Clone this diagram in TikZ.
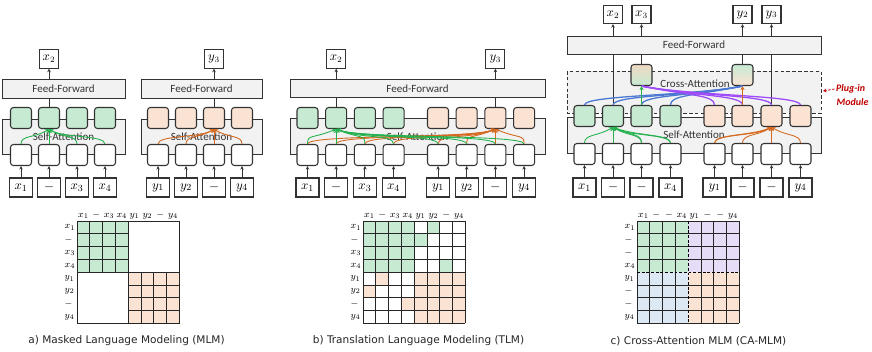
\documentclass[tikz,border=0pt]{standalone}
\usepackage{fontspec}
\setmainfont{Carlito}
\newfontfamily\capfont{DejaVu Sans}
\usetikzlibrary{arrows.meta}

\definecolor{tokg}{HTML}{C7EAD2}
\definecolor{toko}{HTML}{FBE3D4}
\definecolor{tokp}{HTML}{E7DCF8}
\definecolor{tokb}{HTML}{DCE9F5}
\definecolor{tokw}{HTML}{FFFFFF}
\definecolor{tokt}{HTML}{EFD9C4}
\definecolor{layerfill}{HTML}{F2F2F2}
\definecolor{edge}{HTML}{333333}
\definecolor{garc}{HTML}{25B24E}
\definecolor{oarc}{HTML}{D4691F}
\definecolor{barc}{HTML}{4A78D2}
\definecolor{parc}{HTML}{9D4CF7}
\definecolor{plugred}{HTML}{C00000}

\tikzset{
  layer/.style={draw=edge, fill=layerfill, line width=0.8pt, inner sep=0pt, text=black!80, font=\fontsize{9.4}{10}\selectfont},
  tok/.style={draw=edge, rounded corners=2.5pt, line width=0.9pt, minimum width=0.63cm, minimum height=0.63cm, inner sep=0pt},
  inbox/.style={draw=edge, fill=white, line width=0.9pt, minimum width=0.69cm, minimum height=0.57cm, inner sep=0pt, font=\fontsize{11}{11}\selectfont},
  outbox/.style={draw=edge, fill=white, line width=0.9pt, minimum width=0.57cm, minimum height=0.55cm, inner sep=0pt, font=\fontsize{10.5}{10.5}\selectfont},
  feed/.style={edge, line width=0.7pt, -{Stealth[length=3pt,width=3pt]}},
  link/.style={edge, line width=0.7pt},
  garrow/.style={garc, line width=0.75pt, -{Stealth[length=3.5pt,width=3.5pt]}},
  oarrow/.style={oarc, line width=0.75pt, -{Stealth[length=3.5pt,width=3.5pt]}},
  bline/.style={barc, line width=1.1pt},
  pline/.style={parc, line width=1.1pt},
  plugbox/.style={draw=black!80, fill=layerfill, line width=0.7pt, dash pattern=on 3pt off 2pt},
  plug/.style={text=plugred, font=\bfseries\itshape\fontsize{8.5}{9}\selectfont, inner sep=1pt},
  plugarrow/.style={plugred, line width=0.7pt, dash pattern=on 2pt off 1.5pt, -{Stealth[length=3pt,width=3pt]}},
  gridline/.style={black!85, line width=0.85pt},
  midline/.style={black, line width=1.2pt, dash pattern=on 2.5pt off 1.5pt},
  lab/.style={inner sep=0pt, font=\fontsize{8.5}{8.5}\selectfont},
  captext/.style={inner sep=0pt, text=black!85, font={\capfont\fontsize{9}{10}\selectfont}},
}

\begin{document}
\begin{tikzpicture}[x=0.03cm, y=-0.03cm]
\useasboundingbox (0,0) rectangle (872,351);

% ---------- a) MLM ----------
% Layers
\node[layer, minimum width=3.69cm, minimum height=0.57cm] (affl) at (63.5,88.5) {Feed-Forward};
\node[layer, minimum width=3.63cm, minimum height=0.57cm] (affr) at (201.5,88.5) {Feed-Forward};
\node[layer, minimum width=3.69cm, minimum height=1.05cm] (asal) at (63.5,136.5) {Self-Attention};
\node[layer, minimum width=3.63cm, minimum height=1.05cm] (asar) at (201.5,136.5) {Self-Attention};

% Tokens
\foreach \i/\x/\lab/\col in {1/21/x_1/g,2/49/-/g,3/77/x_3/g,4/105/x_4/g,5/158/y_1/o,6/186/y_2/o,7/214/-/o,8/242/y_4/o} {
  \node[inbox] (ain\i) at (\x,187.5) {$\lab$};
  \node[tok, fill=white] (aw\i) at (\x,155) {};
  \node[tok, fill=tok\col] (at\i) at (\x,118) {};
  \draw[feed] (ain\i) -- (aw\i);
}

% Outputs
\node[outbox] (aoutl) at (49,59) {$x_2$};
\node[outbox] (aoutr) at (214,59) {$y_3$};
\draw[link] (at2) -- (at2 |- affl.south);
\draw[feed] (aoutl |- affl.north) -- (aoutl);
\draw[link] (at7) -- (at7 |- affr.south);
\draw[feed] (aoutr |- affr.north) -- (aoutr);

% Attention
\draw[garrow] (aw2) -- (at2);
\foreach \i/\dir in {1/-1,3/1,4/1}
  \draw[garrow] (aw\i.north) .. controls +(0,-9) and +(\dir*14,9) .. (at2.south);
\draw[oarrow] (aw7) -- (at7);
\foreach \i/\dir in {5/-1,6/-1,8/1}
  \draw[oarrow] (aw\i.north) .. controls +(0,-9) and +(\dir*14,9) .. (at7.south);

% ---------- b) TLM ----------
\node[layer, minimum width=7.65cm, minimum height=0.55cm] (bff) at (417.5,88.5) {Feed-Forward};
\node[layer, minimum width=7.65cm, minimum height=1.08cm] (bsa) at (417.5,136.5) {Self-Attention};

\foreach \i/\x/\lab/\col in {1/307.5/x_1/g,2/336.2/-/g,3/364.9/x_3/g,4/393.6/x_4/g,5/438/y_1/o,6/466.7/y_2/o,7/495.4/-/o,8/524.1/y_4/o} {
  \node[inbox] (bin\i) at (\x,187.5) {$\lab$};
  \node[tok, fill=white] (bw\i) at (\x,155) {};
  \node[tok, fill=tok\col] (bt\i) at (\x,118) {};
  \draw[feed] (bin\i) -- (bw\i);
}

\node[outbox] (boutx) at (336.2,59) {$x_2$};
\node[outbox] (bouty) at (495.4,59) {$y_3$};
\draw[link] (bt2) -- (bt2 |- bff.south);
\draw[feed] (boutx |- bff.north) -- (boutx);
\draw[link] (bt7) -- (bt7 |- bff.south);
\draw[feed] (bouty |- bff.north) -- (bouty);

\draw[oarrow] (bw7) -- (bt7);
\foreach \i/\dir in {1/-1,2/-1,3/-1,4/-1,5/-1,6/-1,8/1}
  \draw[oarrow] (bw\i.north) .. controls +(0,-10) and +(\dir*24,10) .. (bt7.south);
\draw[garrow] (bw2) -- (bt2);
\foreach \i/\dir in {1/-1,3/1,4/1,5/1,6/1,7/1,8/1}
  \draw[garrow] (bw\i.north) .. controls +(0,-10) and +(\dir*24,10) .. (bt2.south);

% ---------- c) CA-MLM ----------
\node[layer, minimum width=7.62cm, minimum height=0.54cm] (cff) at (694,45) {Feed-Forward};
\draw[plugbox] (567,71) rectangle (821,113);
\node[inner sep=0pt, text=black!80, font=\fontsize{9.4}{10}\selectfont] (cxtext) at (695,84) {Cross-Attention};
\node[layer, minimum width=7.62cm, minimum height=1.08cm] (csa) at (694,135) {Self-Attention};

\foreach \i/\x/\lab/\col in {1/584.5/x_1/g,2/613/-/g,3/641.5/-/g,4/670.5/x_4/g,5/714.5/y_1/o,6/742.5/-/o,7/771.5/-/o,8/800.5/y_4/o} {
  \node[inbox] (cin\i) at (\x,187.5) {$\lab$};
  \node[tok, fill=white] (cw\i) at (\x,154) {};
  \node[tok, fill=tok\col] (ct\i) at (\x,116) {};
  \draw[feed] (cin\i) -- (cw\i);
}

% Cross-attention tokens
\node[tok, top color=tokt, bottom color=tokg] (cxa) at (641.5,75) {};
\node[tok, top color=tokg, bottom color=toko] (cxb) at (742.5,75) {};

% Outputs
\node[outbox] (cout1) at (613,14.5) {$x_2$};
\node[outbox] (cout2) at (641.5,14.5) {$x_3$};
\node[outbox] (cout3) at (742.5,14.5) {$y_2$};
\node[outbox] (cout4) at (771.5,14.5) {$y_3$};
\draw[link] (ct2) -- (ct2 |- cff.south);
\draw[link] (cxa) -- (cxa |- cff.south);
\draw[link] (cxb) -- (cxb |- cff.south);
\draw[link] (ct7) -- (ct7 |- cff.south);
\foreach \k in {1,...,4}
  \draw[feed] (cout\k |- cff.north) -- (cout\k);

% Self-attention
\draw[garrow] (cw2) -- (ct2);
\foreach \i/\dir/\o in {1/-1/14,3/1/14,3/1/20,4/1/14,4/1/22}
  \draw[garrow] (cw\i.north) .. controls +(0,-9) and +(\dir*\o,9) .. (ct2.south);
\draw[oarrow] (cw7) -- (ct7);
\foreach \i/\dir/\o in {5/-1/14,5/-1/20,6/-1/14,8/1/14}
  \draw[oarrow] (cw\i.north) .. controls +(0,-9) and +(\dir*\o,9) .. (ct7.south);

% Cross-attention
\foreach \i in {1,...,4}
  \draw[bline] (ct\i.north) .. controls +(0,-10) and +(-50,10) .. (cxb.south);
\foreach \i in {5,...,8}
  \draw[pline] (ct\i.north) .. controls +(0,-10) and +(50,10) .. (cxa.south);
\draw[garrow] (ct3) -- (cxa);
\draw[oarrow] (ct6) -- (cxb);

% Plug-in label
\node[plug] (plugup) at (850.5,89) {Plug-in};
\node[plug] (plugdn) at (852.5,102) {Module};
\coordinate (plugtip) at (823,91);
\draw[plugarrow] (plugup.west) -- (plugtip);

% ---------- Masks ----------
% a)
\begin{scope}[shift={(77,221)}]
  \fill[tokg] (0,0) rectangle (51.2,51.2);
  \fill[toko] (51.2,51.2) rectangle (102.4,102.4);
  \foreach \k in {0,...,4} {
    \draw[gridline] (\k*12.8,0) -- (\k*12.8,51.2);
    \draw[gridline] (0,\k*12.8) -- (51.2,\k*12.8);
    \draw[gridline] (51.2+\k*12.8,51.2) -- (51.2+\k*12.8,102.4);
    \draw[gridline] (51.2,51.2+\k*12.8) -- (102.4,51.2+\k*12.8);
  }
  \draw[gridline] (0,0) rectangle (102.4,102.4);
  \foreach \lab [count=\k from 0] in {x_1,-,x_3,x_4,y_1,y_2,-,y_4} {
    \node[lab, anchor=base] (acol\k) at (6.4+\k*12.8,-3.5) {$\lab$};
    \node[lab, anchor=west] (arow\k) at (-12.5,6.4+\k*12.8) {$\lab$};
  }
\end{scope}

% b)
\begin{scope}[shift={(363,221)}]
  \foreach \cells [count=\r from 0] in {{g,g,g,g,w,g,w,w},{g,g,g,g,g,w,w,w},{g,g,g,g,w,w,w,w},{g,g,g,g,w,w,g,w},{w,o,w,w,o,o,o,o},{o,w,w,w,o,o,o,o},{w,w,w,o,o,o,o,o},{w,w,w,w,o,o,o,o}}
    \foreach \col [count=\k from 0] in \cells
      \path[fill=tok\col] (\k*12.8,\r*12.8) rectangle ++(12.8,12.8);
  \foreach \k in {0,...,8} {
    \draw[gridline] (\k*12.8,0) -- (\k*12.8,102.4);
    \draw[gridline] (0,\k*12.8) -- (102.4,\k*12.8);
  }
  \foreach \lab [count=\k from 0] in {x_1,-,x_3,x_4,y_1,y_2,-,y_4} {
    \node[lab, anchor=base] (bcol\k) at (6.4+\k*12.8,-3.5) {$\lab$};
    \node[lab, anchor=west] (brow\k) at (-12.5,6.4+\k*12.8) {$\lab$};
  }
\end{scope}

% c)
\begin{scope}[shift={(637,221)}]
  \fill[tokg] (0,0) rectangle (51.2,51.2);
  \fill[tokp] (51.2,0) rectangle (102.4,51.2);
  \fill[tokb] (0,51.2) rectangle (51.2,102.4);
  \fill[toko] (51.2,51.2) rectangle (102.4,102.4);
  \foreach \k in {0,1,2,3,5,6,7,8} {
    \draw[gridline] (\k*12.8,0) -- (\k*12.8,102.4);
    \draw[gridline] (0,\k*12.8) -- (102.4,\k*12.8);
  }
  \draw[midline] (51.2,0) -- (51.2,102.4);
  \draw[midline] (0,51.2) -- (102.4,51.2);
  \foreach \lab [count=\k from 0] in {x_1,-,-,x_4,y_1,-,-,y_4} {
    \node[lab, anchor=base] (ccol\k) at (6.4+\k*12.8,-3.5) {$\lab$};
    \node[lab, anchor=west] (crow\k) at (-12.5,6.4+\k*12.8) {$\lab$};
  }
\end{scope}

% Captions
\node[captext] (capa) at (126.5,341) {a) Masked Language Modeling (MLM)};
\node[captext] (capb) at (418.5,341) {b) Translation Language Modeling (TLM)};
\node[captext] (capc) at (698.5,341) {c) Cross-Attention MLM (CA-MLM)};

\end{tikzpicture}
\end{document}
